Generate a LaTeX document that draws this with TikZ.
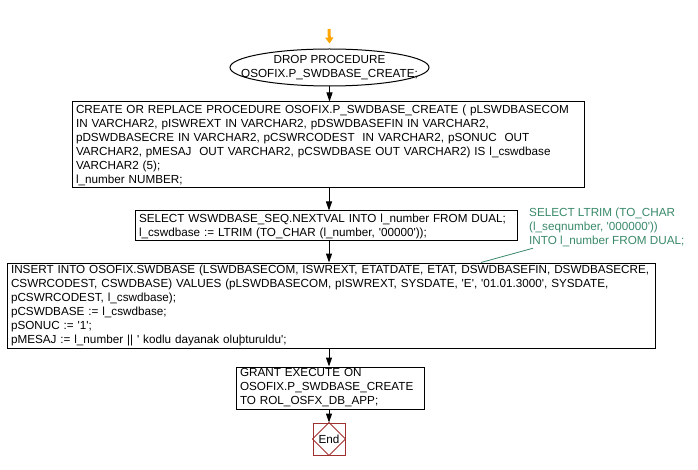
\documentclass[tikz,border=0pt]{standalone}
\usepackage{fontspec}
\setmainfont{Liberation Sans}[Ligatures=TeXOff]
\usetikzlibrary{arrows.meta,shapes.geometric}
\definecolor{notegreen}{HTML}{3A8A6A}
\definecolor{endred}{HTML}{A03030}
\definecolor{startorange}{HTML}{FFA500}
\begin{document}
\begin{tikzpicture}[x=1pt,y=-1pt,
  every node/.style={font=\fontsize{11.7}{14}\selectfont},
  box/.style={draw, line width=1pt, rectangle, align=left, inner xsep=4pt, inner ysep=0pt},
  flow/.style={draw, line width=1pt, -{Triangle[length=9pt,width=6pt]}},
  notetxt/.style={text=notegreen, align=left, inner sep=0pt, anchor=north west}]
\useasboundingbox[fill=white] (0,0) rectangle (698,470);
\coordinate (fx) at (329,0);

\node[draw, line width=1pt, ellipse, minimum width=199pt, minimum height=37pt, inner sep=0pt] (drop) at (329.5,67.5) {};
\node[align=center, inner sep=0pt] (droptext) at (drop.center)
  {DROP PROCEDURE\\OSOFIX.P\_SWDBASE\_CREATE;};

\node[box, minimum width=512pt, minimum height=86pt, text width=504pt] (create) at (328,145)
  {CREATE OR REPLACE PROCEDURE OSOFIX.P\_SWDBASE\_CREATE ( pLSWDBASECOM\\
   IN VARCHAR2, pISWREXT IN VARCHAR2, pDSWDBASEFIN IN VARCHAR2,\\
   pDSWDBASECRE IN VARCHAR2, pCSWRCODEST\ \ IN VARCHAR2, pSONUC\ \ OUT\\
   VARCHAR2, pMESAJ\ \ OUT VARCHAR2, pCSWDBASE OUT VARCHAR2) IS l\_cswdbase\\
   VARCHAR2 (5);\\
   l\_number NUMBER;};

\node[box, minimum width=382pt, minimum height=30pt, text width=374pt] (select) at (326,226)
  {SELECT WSWDBASE\_SEQ.NEXTVAL INTO l\_number FROM DUAL;\\
   l\_cswdbase := LTRIM (TO\_CHAR (l\_number, '00000'));};

\node[notetxt] (note) at (529,208)
  {SELECT LTRIM (TO\_CHAR\\(l\_seqnumber, '000000'))\\INTO l\_number FROM DUAL;};

\node[box, minimum width=648pt, minimum height=85pt, text width=640pt] (insert) at (331,305.5)
  {INSERT INTO OSOFIX.SWDBASE (LSWDBASECOM, ISWREXT, ETATDATE, ETAT, DSWDBASEFIN, DSWDBASECRE,\\
   CSWRCODEST, CSWDBASE) VALUES (pLSWDBASECOM, pISWREXT, SYSDATE, 'E', '01.01.3000', SYSDATE,\\
   pCSWRCODEST, l\_cswdbase);\\
   pCSWDBASE := l\_cswdbase;\\
   pSONUC := '1';\\
   pMESAJ := l\_number || ' kodlu dayanak oluþturuldu';};

\node[box, minimum width=188pt, minimum height=42pt, text width=180pt] (grant) at (330,388)
  {GRANT EXECUTE ON\\OSOFIX.P\_SWDBASE\_CREATE\\TO ROL\_OSFX\_DB\_APP;};

\node[draw=endred, line width=1pt, rectangle, minimum size=32pt, inner sep=0pt] (end) at (329,439) {End};
\draw[endred, line width=0.8pt] (end.north) -- (end.east) -- (end.south) -- (end.west) -- cycle;

\coordinate (start) at (329,29);
\draw[startorange, line width=3pt, -{Triangle[length=6pt,width=8pt]}] (start) -- ([yshift=5pt]drop.north);

\draw[flow] (drop.south) -- (create.north -| drop.south);
\draw[flow] (create.south -| fx) -- (select.north -| fx);
\draw[flow] (select.south -| fx) -- (insert.north -| fx);
\draw[flow] (insert.south -| fx) -- (grant.north -| fx);
\draw[flow] (grant.south -| fx) -- (end.north);

\coordinate (nx) at (481,0);
\draw[notegreen, line width=0.8pt] ([xshift=4pt,yshift=-1pt]note.south west) -- (insert.north -| nx);
\end{tikzpicture}
\end{document}
